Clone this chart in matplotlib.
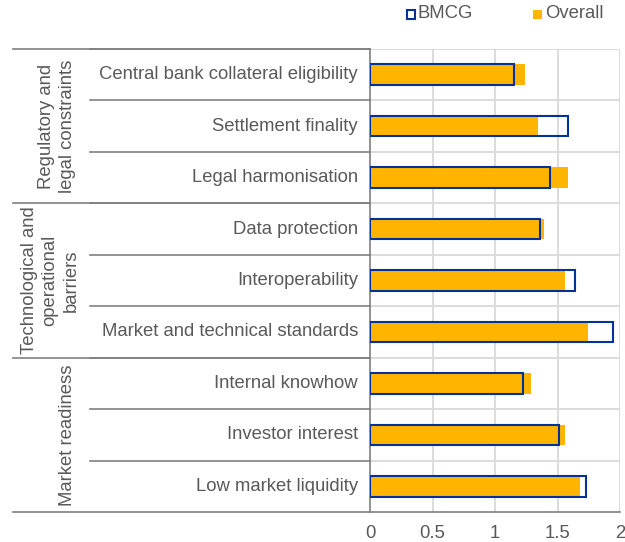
import matplotlib
matplotlib.use("Agg")
import matplotlib.pyplot as plt
from matplotlib.patches import Rectangle
from matplotlib.transforms import blended_transform_factory

plt.rcParams['font.family'] = ['Liberation Sans', 'DejaVu Sans']

categories = ["Central bank collateral eligibility", "Settlement finality", "Legal harmonisation",
              "Data protection", "Interoperability", "Market and technical standards",
              "Internal knowhow", "Investor interest", "Low market liquidity"]
groups = ["Regulatory and\nlegal constraints", "Technological and\noperational\nbarriers", "Market readiness"]
group_sizes = [3, 3, 3]
bmcg = [1.15, 1.58, 1.44, 1.36, 1.64, 1.94, 1.22, 1.51, 1.73]
overall = [1.24, 1.34, 1.58, 1.39, 1.56, 1.74, 1.29, 1.56, 1.68]
xticks = [0, 0.5, 1, 1.5, 2]
xticklabels = ["0", "0.5", "1", "1.5", "2"]

TXT = '#595959'
ORANGE = '#FFB400'
BLUE = '#003299'
GRID = '#D9D9D9'
AX = '#808080'
FS = 13.3

W, H = 625, 542
fig = plt.figure(figsize=(W / 100, H / 100), dpi=100)
left, right, top, bottom = 370, 620, 49, 512
ax = fig.add_axes([left / W, (H - bottom) / H, (right - left) / W, (bottom - top) / H])

n = len(categories)
ys = list(range(n))
bh = 0.4
ax.barh(ys, overall, height=bh, color=ORANGE, zorder=2)
ax.barh(ys, bmcg, height=bh, facecolor='none', edgecolor=BLUE, linewidth=1.5, zorder=3)

ax.set_xlim(0, 2)
ax.set_ylim(n - 0.5, -0.5)
ax.set_xticks(xticks)
ax.set_xticklabels(xticklabels, fontsize=FS, color=TXT)
ax.tick_params(axis='x', length=0, pad=9)
ax.set_yticks([])
for x in xticks[1:]:
    ax.axvline(x, color=GRID, lw=1.3, zorder=1)
for k in range(n):
    ax.axhline(k - 0.5, color=GRID, lw=1.3, zorder=1)

for s in ['top', 'right']:
    ax.spines[s].set_visible(False)
for s in ['left', 'bottom']:
    ax.spines[s].set_color(AX)
    ax.spines[s].set_linewidth(1.2)

tr = blended_transform_factory(ax.transAxes, ax.transData)
pw = right - left
x_group = -(left - 13) / pw
x_cat = -(left - 90) / pw

# category boundary lines and labels
for k in range(n):
    ax.plot([x_cat, 0], [k - 0.5, k - 0.5], transform=tr, color=AX, lw=1.2, clip_on=False)
    ax.text(-12 / pw, k, categories[k], transform=tr, ha='right', va='center', fontsize=FS, color=TXT)

# group boundary lines and labels
start = 0
gx = [57, 50, 67]
for g, size in enumerate(group_sizes):
    ax.plot([x_group, 0], [start - 0.5, start - 0.5], transform=tr, color=AX, lw=1.2, clip_on=False)
    center = start + (size - 1) / 2
    ax.text(-(left - gx[g]) / pw, center, groups[g], transform=tr, rotation=90,
            ha='center', va='center', fontsize=FS, color=TXT, linespacing=1.3, multialignment='center')
    start += size
ax.plot([x_group, 0], [n - 0.5, n - 0.5], transform=tr, color=AX, lw=1.2, clip_on=False)

# legend
ly = 14
fig.patches.append(Rectangle((407 / W, 1 - (ly + 4.5) / H), 8 / W, 8 / H, transform=fig.transFigure,
                             facecolor='white', edgecolor=BLUE, linewidth=1.5))
fig.text(418 / W, 1 - ly / H, "BMCG", ha='left', va='center', fontsize=FS, color=TXT)
fig.patches.append(Rectangle((533 / W, 1 - (ly + 4.5) / H), 9 / W, 9 / H, transform=fig.transFigure,
                             facecolor=ORANGE, edgecolor='none'))
fig.text(545 / W, 1 - ly / H, "Overall", ha='left', va='center', fontsize=FS, color=TXT)

fig.savefig("out.png", dpi=100)
